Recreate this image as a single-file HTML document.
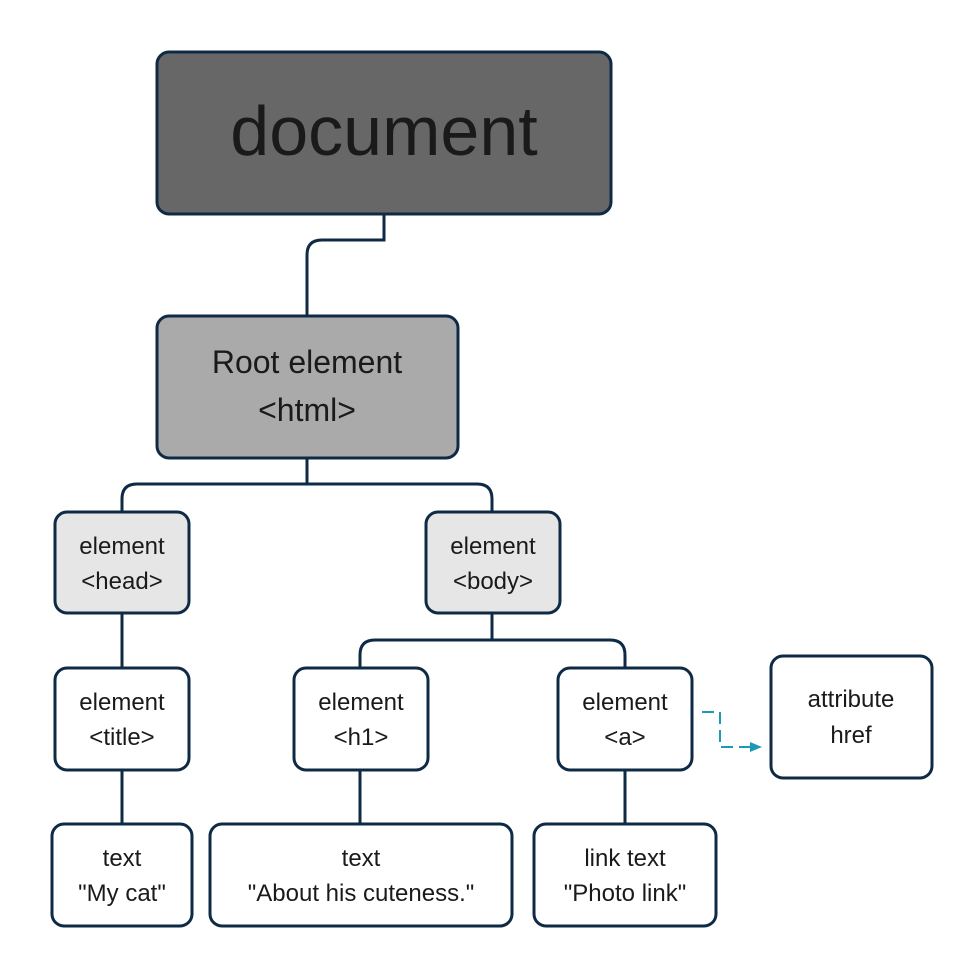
<!DOCTYPE html>
<html><head><meta charset="utf-8"><style>
body{margin:0;background:#fff}
svg text{font-family:"Liberation Sans","DejaVu Sans",sans-serif;fill:#1a1a1a;text-anchor:middle}
</style></head><body>
<svg width="977" height="957" viewBox="0 0 977 957" xmlns="http://www.w3.org/2000/svg">
<g fill="none" stroke="#0f2a44" stroke-width="3">
<path d="M384 214 V240 H322 Q307 240 307 255 V316"/>
<path d="M307 458 V484 M122 512 V499 Q122 484 137 484 H477 Q492 484 492 499 V512"/>
<path d="M122 613 V668 M122 770 V824"/>
<path d="M492 613 V640 M360 668 V655 Q360 640 375 640 H610 Q625 640 625 655 V668"/>
<path d="M360 770 V824 M625 770 V824"/>
</g>
<path d="M702 712 H720 V747 H752" fill="none" stroke="#1a9ab5" stroke-width="2" stroke-dasharray="12,6"/>
<path d="M762 747 L750 742 L750 752 Z" fill="#1a9ab5"/>
<g stroke="#0f2a44" stroke-width="3">
<rect x="157" y="52" width="454" height="162" rx="12" fill="#676767"/>
<rect x="157" y="316" width="301" height="142" rx="12" fill="#aaaaaa"/>
<rect x="55" y="512" width="134" height="101" rx="12" fill="#e6e6e6"/>
<rect x="426" y="512" width="134" height="101" rx="12" fill="#e6e6e6"/>
<rect x="55" y="668" width="134" height="102" rx="12" fill="#fff"/>
<rect x="294" y="668" width="134" height="102" rx="12" fill="#fff"/>
<rect x="558" y="668" width="134" height="102" rx="12" fill="#fff"/>
<rect x="771" y="656" width="161" height="122" rx="12" fill="#fff"/>
<rect x="52" y="824" width="140" height="102" rx="12" fill="#fff"/>
<rect x="210" y="824" width="302" height="102" rx="12" fill="#fff"/>
<rect x="534" y="824" width="182" height="102" rx="12" fill="#fff"/>
</g>
<text x="384" y="155" font-size="70">document</text>
<text x="307" y="373" font-size="32">Root element</text>
<text x="307" y="421" font-size="32">&lt;html&gt;</text>
<g font-size="24">
<text x="122" y="554">element</text><text x="122" y="589">&lt;head&gt;</text>
<text x="493" y="554">element</text><text x="493" y="589">&lt;body&gt;</text>
<text x="122" y="710">element</text><text x="122" y="745">&lt;title&gt;</text>
<text x="361" y="710">element</text><text x="361" y="745">&lt;h1&gt;</text>
<text x="625" y="710">element</text><text x="625" y="745">&lt;a&gt;</text>
<text x="851" y="707">attribute</text><text x="851" y="743">href</text>
<text x="122" y="866">text</text><text x="122" y="901">"My cat"</text>
<text x="361" y="866">text</text><text x="361" y="901">"About his cuteness."</text>
<text x="625" y="866">link text</text><text x="625" y="901">"Photo link"</text>
</g>
</svg>
</body></html>
